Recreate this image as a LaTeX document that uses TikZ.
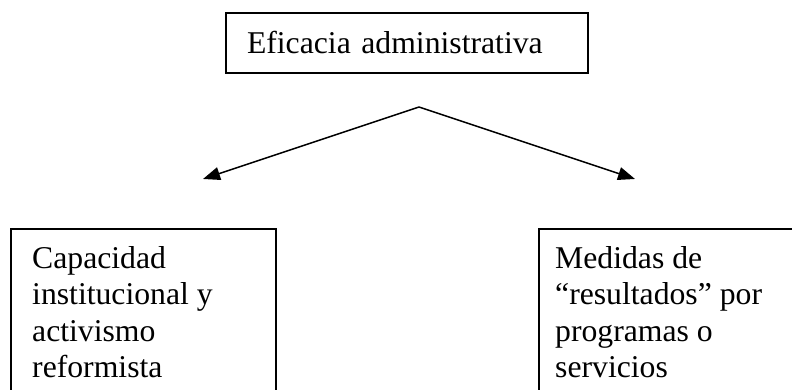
\documentclass[tikz,border=0pt]{standalone}
\usepackage{fontspec}
\setmainfont{Liberation Serif}
\usetikzlibrary{arrows.meta}
\begin{document}
\begin{tikzpicture}[x=1pt,y=1pt,
  every node/.style={font=\fontsize{31.7}{36.5}\selectfont},
  box/.style={draw,line width=1.6pt},
  lbl/.style={inner sep=0pt,anchor=north west,align=left},
  arr/.style={line width=1.5pt,-{Triangle[length=17pt,width=13pt]}}]
\useasboundingbox (0,0) rectangle (792,390);
% top box
\node[box,minimum width=362pt,minimum height=60pt,inner xsep=21pt,text width=320pt,align=left] (top) at (407,347) {Eficacia administrativa};
% bottom boxes (cut by the lower edge of the picture)
\node[box,anchor=north west,minimum width=265pt,minimum height=190pt] (lbox) at (10,162) {};
\node[box,anchor=north west,minimum width=270pt,minimum height=190pt] (rbox) at (538,162) {};
\node[lbl] (ltext) at (32,144) {Capacidad\\institucional y\\activismo\\reformista};
\node[lbl] (rtext) at (555,144) {Medidas de\\“resultados” por\\programas o\\servicios};
% arrows
\coordinate (apex) at (419,283);
\coordinate (ltip) at (203,211);
\coordinate (rtip) at (635,211);
\draw[arr] (apex) -- (ltip);
\draw[arr] (apex) -- (rtip);
\end{tikzpicture}
\end{document}
